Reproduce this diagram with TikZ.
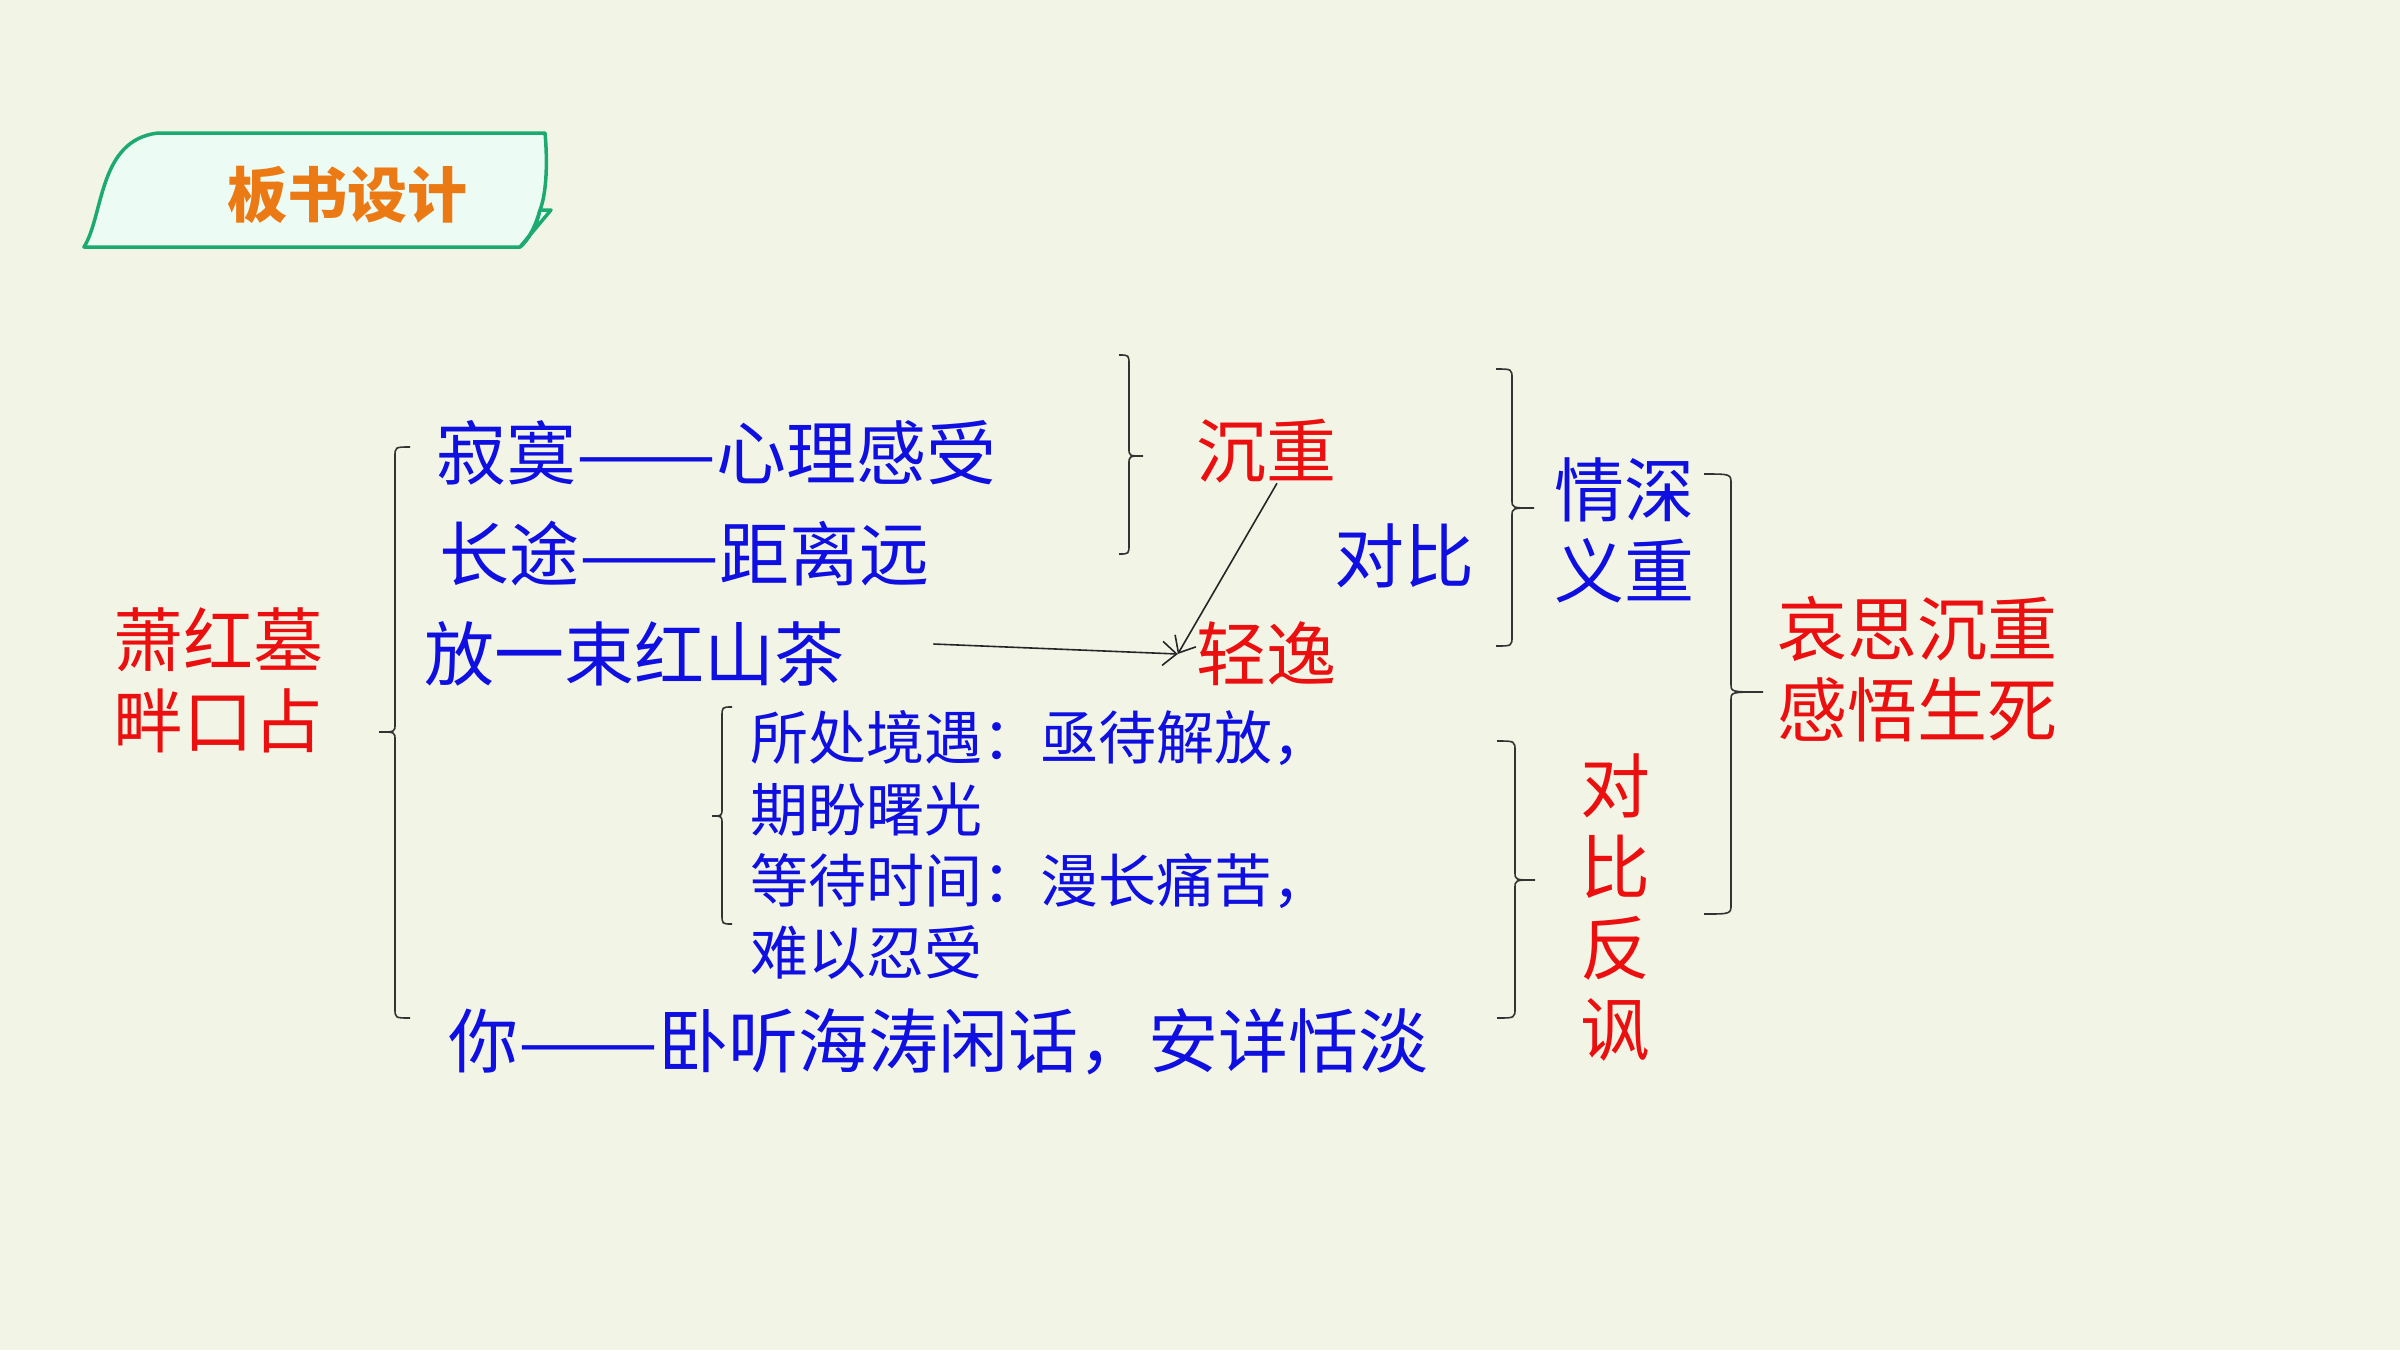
\documentclass[tikz,border=0pt]{standalone}
\usepackage{fontspec}
\usepackage{graphicx}
\setmainfont{Noto Sans CJK SC}
\usetikzlibrary{arrows.meta}
\definecolor{bgcol}{RGB}{242,245,230}
\definecolor{textred}{RGB}{235,15,15}
\definecolor{textblue}{RGB}{15,15,225}
\definecolor{titleorange}{RGB}{236,122,20}
\definecolor{bannergreen}{RGB}{28,170,112}
\definecolor{bannerfill}{RGB}{236,252,245}
% double dash, two full em wide
\newcommand{\dbldash}{\resizebox{2em}{\height}{——}}
% curly brace: stem x, top y, bottom y, tip y, hook dx, tip dx
\newcommand{\curlybr}[6]{%
  \draw[brc] ({#1+(#5)},#2) .. controls (#1,#2) .. (#1,{#2+10})
    -- (#1,{#4-8}) .. controls (#1,#4) .. ({#1+(#6)},#4)
    .. controls (#1,#4) .. (#1,{#4+8})
    -- (#1,{#3-10}) .. controls (#1,#3) .. ({#1+(#5)},#3);}
\begin{document}
\begin{tikzpicture}[x=1pt, y=-1pt,
    txt/.style={inner sep=0pt, font=\fontsize{70}{81}\selectfont},
    smalltxt/.style={inner sep=0pt, align=left, text=textblue, font=\fontsize{58}{71.5}\selectfont},
    brc/.style={draw=black!80, line width=1.6pt},
    arr/.style={draw=black!85, line width=1.6pt, -{Straight Barb[length=14pt, width=24pt]}},
    banner/.style={draw=bannergreen, fill=bannerfill, line width=3.5pt, line join=round}
]
\fill[bgcol] (0,0) rectangle (2400,1350);

% Title banner
\filldraw[banner] (84,247) .. controls (104,215) and (98,140) .. (158,133) -- (545,133)
    .. controls (548,165) and (546,195) .. (540,210)
    .. controls (535,228) and (528,240) .. (520,247) -- cycle;
\filldraw[banner] (540,210) -- (551,210) -- (520,247) .. controls (530,238) and (537,225) .. (540,210);
\node[inner sep=0pt, text=titleorange, font=\fontsize{60}{60}\selectfont\bfseries] (title) at (347,195) {板书设计};

% Texts
\node[txt, text=textred, align=center] (poem) at (218,680) {萧红墓\\畔口占};
\node[txt, text=textblue, anchor=west] (lonely) at (436,453) {寂寞\dbldash 心理感受};
\node[txt, text=textblue, anchor=west] (far) at (439,554) {长途\dbldash 距离远};
\node[txt, text=textblue, anchor=west] (tea) at (424,654) {放一束红山茶};
\node[smalltxt, anchor=west] (wait) at (750,845) {所处境遇：亟待解放，\\期盼曙光\\等待时间：漫长痛苦，\\难以忍受};
\node[txt, text=textblue, anchor=west] (you) at (448,1042) {你\dbldash 卧听海涛闲话，安详恬淡};
\node[txt, text=textred] (heavy) at (1266,451) {沉重};
\node[txt, text=textred] (light) at (1266,654) {轻逸};
\node[txt, text=textblue] (contrast) at (1404,556) {对比};
\node[txt, text=textblue, align=center] (deep) at (1624,530) {情深\\义重};
\node[txt, text=textred, align=center] (irony) at (1615,908) {对\\比\\反\\讽};
\node[txt, text=textred, align=center] (grief) at (1917,669) {哀思沉重\\感悟生死};

% Braces
\curlybr{395}{447}{1018}{732}{15}{-16}
\curlybr{722}{707}{924}{816}{10}{-10}
\curlybr{1129}{355}{554}{456}{-10}{14}
\curlybr{1512}{369}{646}{508}{-16}{22}
\curlybr{1515}{741}{1018}{880}{-18}{20}
\curlybr{1731}{474}{914}{692}{-27}{32}

% Arrows
\coordinate (meet) at ([xshift=-18pt]light.west);
\draw[arr] ([xshift=89pt,yshift=10pt]tea.east) -- (meet);
\draw[arr] ([xshift=11pt]heavy.south) -- (meet);

\end{tikzpicture}
\end{document}
